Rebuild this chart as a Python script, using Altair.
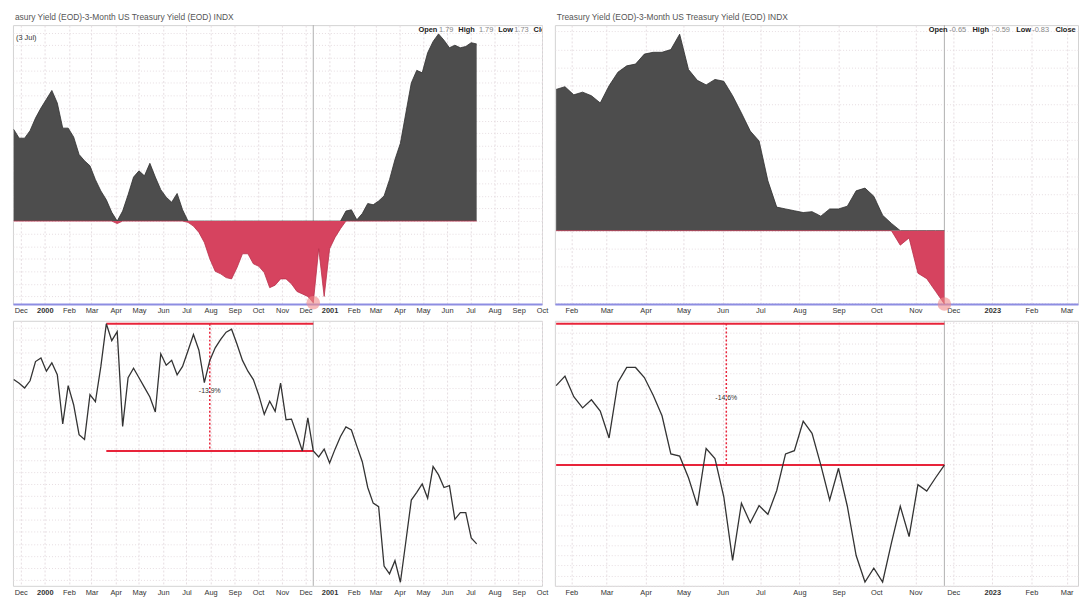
import altair as alt
import pandas as pd

# ---------------- data (weekly values) ----------------
left_start = "1999-11-22"
right_start = "2022-01-20"

# 10Y - 3M Treasury spread (percentage points), weekly
left_spread = [0.73, 0.66, 0.66, 0.72, 0.82, 0.90, 0.97, 1.04, 0.94, 0.74,
               0.74, 0.67, 0.53, 0.48, 0.44, 0.33, 0.24, 0.17, 0.07, -0.02,
               0.08, 0.21, 0.35, 0.40, 0.36, 0.46, 0.35, 0.25, 0.19, 0.15,
               0.22, 0.09, -0.01, -0.04, -0.09, -0.17, -0.30, -0.40, -0.42, -0.45,
               -0.46, -0.37, -0.26, -0.26, -0.34, -0.36, -0.41, -0.53, -0.51, -0.46,
               -0.46, -0.50, -0.56, -0.58, -0.60, -0.65, -0.22, -0.60, -0.22, -0.13,
               -0.06, 0.08, 0.09, 0.01, 0.06, 0.14, 0.13, 0.16, 0.20, 0.33,
               0.49, 0.62, 0.86, 1.10, 1.20, 1.18, 1.34, 1.43, 1.49, 1.44,
               1.38, 1.40, 1.38, 1.39, 1.42, 1.41]
# S&P 500 weekly close
left_spx = [1434, 1428, 1420, 1432, 1464, 1470, 1448, 1462, 1442, 1360,
            1424, 1392, 1342, 1334, 1409, 1397, 1456, 1527, 1499, 1514,
            1356, 1437, 1453, 1437, 1421, 1405, 1380, 1477, 1458, 1466,
            1442, 1456, 1482, 1509, 1483, 1429, 1466, 1487, 1501, 1513,
            1518, 1493, 1466, 1448, 1434, 1408, 1376, 1398, 1381, 1428,
            1367, 1368, 1342, 1315, 1370, 1315, 1305, 1318, 1295, 1318,
            1339, 1355, 1350, 1323, 1297, 1254, 1228, 1222, 1123, 1110,
            1132, 1096, 1164, 1233, 1246, 1260, 1236, 1289, 1275, 1254,
            1257, 1201, 1212, 1212, 1170, 1160]

right_spread = [1.56, 1.59, 1.50, 1.53, 1.49, 1.41, 1.60, 1.75, 1.82, 1.84,
                1.95, 1.97, 1.97, 2.00, 2.17, 1.78, 1.66, 1.61, 1.67, 1.65,
                1.49, 1.30, 1.10, 0.99, 0.55, 0.26, 0.24, 0.22, 0.20, 0.21,
                0.16, 0.24, 0.24, 0.27, 0.44, 0.47, 0.38, 0.17, 0.08, -0.16,
                -0.08, -0.47, -0.53, -0.67, -0.81]
right_spx = [4490, 4537, 4435, 4380, 4420, 4364, 4231, 4506, 4580, 4580,
             4530, 4443, 4341, 4152, 4141, 4034, 3896, 4179, 4129, 3940,
             3625, 3908, 3811, 3896, 3853, 3971, 4152, 4168, 4314, 4254,
             4097, 3924, 4081, 3893, 3649, 3518, 3586, 3518, 3712, 3893,
             3743, 4000, 3968, 4034, 4097]
right_prior_peak = 4797          # all-time high before the window starts

left_mid_date = "2000-07-31"     # where the dotted drop marker sits
right_mid_date = "2022-06-04"

left_title = "asury Yield (EOD)-3-Month US Treasury Yield (EOD) INDX"
right_title = "Treasury Yield (EOD)-3-Month US Treasury Yield (EOD) INDX"
ohlc_labels = ["Open", "High", "Low", "Close"]
left_ohlc = ["1.79", "1.79", "1.73", ""]
right_ohlc = ["-0.65", "-0.59", "-0.83", ""]
left_note = "(3 Jul)"

left_xdom = [(1999, 11, 21), (2001, 10, 1)]
right_xdom = [(2022, 1, 19), (2023, 3, 10)]
left_sdom = [-0.66, 1.56]
right_sdom = [-0.81, 2.27]
left_pdom = [1090, 1532]
right_pdom = [3499, 4811]

# ---------------- styling ----------------
GRAY = "#4d4d4d"
RED = "#d6435f"
LINE_RED = "#e8243a"
GRID = "#e6dde1"
FONT = "Liberation Sans"
TOP_H = 282
BOT_H = 268

LABEL_EXPR = "utcmonth(datum.value) == 0 ? utcFormat(datum.value, '%Y') : utcFormat(datum.value, '%b')"
LABEL_WEIGHT = {"condition": {"test": "utcmonth(datum.value) == 0", "value": "bold"}, "value": "normal"}


def dt(t):
    return alt.DateTime(year=t[0], month=t[1], date=t[2], utc=True)


def xaxis(blue):
    kw = dict(title=None, grid=True, gridColor=GRID, gridDash=[2, 2],
              tickCount={"interval": "month", "step": 1}, labelExpr=LABEL_EXPR,
              labelFontWeight=LABEL_WEIGHT, labelFlush=False, labelOverlap=False,
              labelPadding=3, ticks=False, labelFont=FONT, labelFontSize=7.5,
              labelColor="#333")
    if blue:
        kw.update(domain=True, domainColor="#8d8de2", domainWidth=2)
    else:
        kw.update(domain=False)
    return alt.Axis(**kw)


def X(field, xdom, blue):
    return alt.X(field, type="temporal",
                 scale=alt.Scale(type="utc", domain=[dt(xdom[0]), dt(xdom[1])]),
                 axis=xaxis(blue))


def Y(field, dom, n):
    return alt.Y(field, type="quantitative",
                 scale=alt.Scale(domain=dom, zero=False, nice=False),
                 axis=alt.Axis(title=None, labels=False, ticks=False, domain=False,
                               grid=True, gridColor=GRID, gridDash=[1, 2],
                               tickCount=n, minExtent=0, maxExtent=0))


def weekly(start, n):
    return pd.date_range(start, periods=n, freq="7D").strftime("%Y-%m-%d")


def ohlc_layers(vals, x0):
    out = []
    x = x0
    for lab, val in zip(ohlc_labels, vals):
        out.append(alt.Chart(pd.DataFrame({"t": [lab]})).mark_text(
            align="left", baseline="middle", fontSize=7.5, fontWeight="bold",
            color="#222", font=FONT, clip=True).encode(
            x=alt.value(x), y=alt.value(5), text="t:N"))
        x += len(lab) * 4.7 + 2
        if val:
            out.append(alt.Chart(pd.DataFrame({"t": [val]})).mark_text(
                align="left", baseline="middle", fontSize=7.5, color="#888",
                font=FONT, clip=True).encode(
                x=alt.value(x), y=alt.value(5), text="t:N"))
            x += len(val) * 3.9 + 4
    return out


def panel(start, spread, spx, prior_peak, mid_date, xdom, sdom, pdom, width,
          title, ohlc, ohlc_x, note=None):
    s = pd.DataFrame({"date": weekly(start, len(spread)), "v": spread})
    s["pos"] = s["v"].clip(lower=0)
    s["neg"] = s["v"].clip(upper=0)
    p = pd.DataFrame({"date": weekly(start, len(spx)), "v": spx})

    imin = int(s["v"].idxmin())
    min_date = s.loc[imin, "date"]
    trough = p.loc[imin, "v"]
    if prior_peak is None:
        ipk = int(p["v"].idxmax())
        peak = p.loc[ipk, "v"]
        peak_date = p.loc[ipk, "date"]
    else:
        peak = prior_peak
        peak_date = p.loc[0, "date"]
    pct = (trough / peak - 1) * 100

    vline = pd.DataFrame({"date": [min_date]})
    minpt = s.loc[[imin], ["date", "v"]]
    hl = pd.DataFrame({"date": [peak_date, peak_date], "date2": [min_date, min_date],
                       "v": [peak, trough]})
    dl = pd.DataFrame({"date": [mid_date], "v": [peak], "v2": [trough],
                       "mid": [(peak + trough) / 2], "lab": [f"{pct:.1f}%"]})

    base_s = alt.Chart(s)
    pos = base_s.mark_area(color=GRAY, opacity=1, line={"color": "#2f2f2f", "strokeWidth": 0.8}).encode(
        x=X("date", xdom, True), y=Y("pos", sdom, 16), y2=alt.datum(0))
    neg = base_s.mark_area(color=RED, opacity=1, line={"color": "#b8304b", "strokeWidth": 0.8}).encode(
        x=X("date", xdom, True), y=Y("neg", sdom, 16), y2=alt.datum(0))
    vr_top = alt.Chart(vline).mark_rule(color="#b0b0b0", strokeWidth=1).encode(
        x=X("date", xdom, True))
    dot = alt.Chart(minpt).mark_circle(size=190, color="#f08a8a", opacity=0.6).encode(
        x=X("date", xdom, True), y=Y("v", sdom, 16))
    top_layers = [vr_top, pos, neg, dot] + ohlc_layers(ohlc, ohlc_x)
    if note:
        top_layers.append(alt.Chart(pd.DataFrame({"t": [note]})).mark_text(
            align="left", baseline="middle", fontSize=7.5, color="#333", font=FONT).encode(
            x=alt.value(3), y=alt.value(13), text="t:N"))
    top = alt.layer(*top_layers).properties(
        width=width, height=TOP_H,
        title=alt.Title(title, anchor="start", frame="group", fontSize=8.5, font=FONT,
                        fontWeight="normal", color="#555", offset=3, dx=2))

    line = alt.Chart(p).mark_line(color="#333", strokeWidth=1.3).encode(
        x=X("date", xdom, False), y=Y("v", pdom, 20))
    vr_bot = alt.Chart(vline).mark_rule(color="#b0b0b0", strokeWidth=1).encode(
        x=X("date", xdom, False))
    hrules = alt.Chart(hl).mark_rule(color=LINE_RED, strokeWidth=2).encode(
        x=X("date", xdom, False), x2="date2:T", y=Y("v", pdom, 20))
    drule = alt.Chart(dl).mark_rule(color=LINE_RED, strokeWidth=1.5, strokeDash=[2, 2]).encode(
        x=X("date", xdom, False), y=Y("v", pdom, 20), y2="v2:Q")
    dlab = alt.Chart(dl).mark_text(fontSize=7, color="#333", font=FONT, dy=4).encode(
        x=X("date", xdom, False), y=Y("mid", pdom, 20), text="lab:N")
    bottom = alt.layer(vr_bot, hrules, drule, line, dlab).properties(width=width, height=BOT_H)
    return alt.vconcat(top, bottom, spacing=5)


left_panel = panel(left_start, left_spread, left_spx, None, left_mid_date, left_xdom,
                   left_sdom, left_pdom, 535, left_title, left_ohlc, 410, left_note)
right_panel = panel(right_start, right_spread, right_spx, right_prior_peak, right_mid_date,
                    right_xdom, right_sdom, right_pdom, 529, right_title, right_ohlc, 378)

chart = alt.hconcat(left_panel, right_panel, spacing=4).properties(
    padding={"left": 2, "top": 1, "right": 0, "bottom": 0},
    background="white",
).configure_view(stroke="#d2d2d2", strokeWidth=1)

chart.save("out.html", embed_options={"renderer": "svg", "actions": False})
